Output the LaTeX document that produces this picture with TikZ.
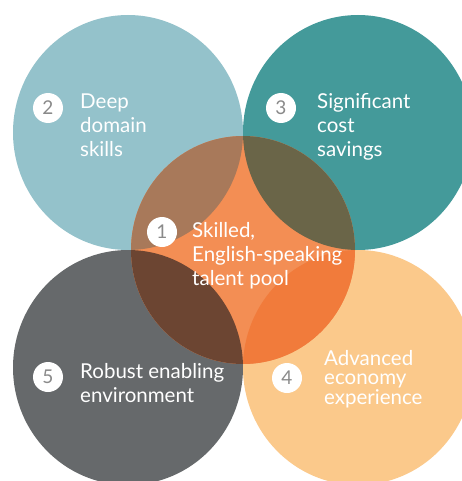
\documentclass[tikz,border=0pt]{standalone}
\usepackage{fontspec}
\setmainfont{Lato}
\usetikzlibrary{shapes.geometric}
\definecolor{cblue}{HTML}{94C2CB}
\definecolor{cteal}{HTML}{449A9A}
\definecolor{cgrey}{HTML}{66696B}
\definecolor{cpeach}{HTML}{FBC98B}
\definecolor{corange}{HTML}{F38E54}
\definecolor{ovblue}{HTML}{A8795A}
\definecolor{ovteal}{HTML}{6A6548}
\definecolor{ovgrey}{HTML}{6C4532}
\definecolor{ovpeach}{HTML}{F17B3B}
\definecolor{numgrey}{HTML}{8A8A8A}
\newcommand{\lns}[2]{{\baselineskip=#1pt\begin{tabular}[t]{@{}l@{}}#2\end{tabular}}}
\begin{document}
\begin{tikzpicture}[x=1pt,y=-1pt,
  big/.style={ellipse, inner sep=0pt, minimum width=230pt, minimum height=235pt},
  mid/.style={ellipse, inner sep=0pt, minimum width=224pt, minimum height=228pt},
  badge/.style={circle, fill=white, inner sep=0pt, minimum size=30pt, text=numgrey, font=\fontsize{19}{19}\selectfont},
  lbl/.style={anchor=base west, inner sep=0pt, text=white, font=\fontsize{20.5}{24}\selectfont}]
\useasboundingbox (0,0) rectangle (462,481);
\clip (0,0) rectangle (462,481);
\fill[white] (0,0) rectangle (462,481);
% outer circles
\node[big, fill=cblue]  (c2) at (128,132.5) {};
\node[big, fill=cteal]  (c3) at (358,132.5) {};
\node[big, fill=cgrey]  (c5) at (128,367.5) {};
\node[big, fill=cpeach] (c4) at (358,367.5) {};
% central circle
\node[mid, fill=corange] (c1) at (243,250) {};
\begin{scope}
  \clip (c1.center) ellipse [x radius=112, y radius=114];
  \fill[ovblue]  (c2.center) ellipse [x radius=115, y radius=117.5];
  \fill[ovteal]  (c3.center) ellipse [x radius=115, y radius=117.5];
  \fill[ovgrey]  (c5.center) ellipse [x radius=115, y radius=117.5];
  \fill[ovpeach] (c4.center) ellipse [x radius=115, y radius=117.5];
\end{scope}
% badges
\node[badge] (b2) at (48,108) {2};
\node[badge] (b3) at (281,108) {3};
\node[badge] (b1) at (162,232) {1};
\node[badge] (b5) at (48,377) {5};
\node[badge] (b4) at (287,378) {4};
% labels
\node[lbl] (t2) at (80,109) {\lns{24}{Deep\\domain\\skills}};
\node[lbl] (t3) at (317,109) {\lns{24}{Significant\\cost\\savings}};
\node[lbl] (t1) at (192,237) {\lns{24}{Skilled,\\English-speaking\\talent pool}};
\node[lbl] (t5) at (80,378) {\lns{25}{Robust enabling\\environment}};
\node[lbl, font=\fontsize{20.5}{19}\selectfont] (t4) at (324,365) {\lns{19}{Advanced\\economy\\experience}};
\end{tikzpicture}
\end{document}
